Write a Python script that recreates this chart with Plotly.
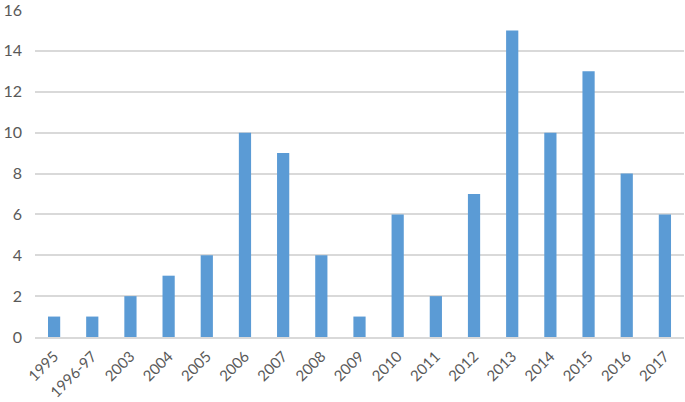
import plotly.graph_objects as go

years = ["1995", "1996-97", "2003", "2004", "2005", "2006", "2007", "2008", "2009",
         "2010", "2011", "2012", "2013", "2014", "2015", "2016", "2017"]
counts = [1, 1, 2, 3, 4, 10, 9, 4, 1, 6, 2, 7, 15, 10, 13, 8, 6]
y_ticks = [0, 2, 4, 6, 8, 10, 12, 14, 16]

fig = go.Figure(go.Bar(x=years, y=counts, marker=dict(color="#5b9bd5", line=dict(width=0))))

fig.update_layout(
    width=685, height=402,
    margin=dict(l=35, r=1, t=10, b=65),
    paper_bgcolor="white", plot_bgcolor="white",
    bargap=0.68,
    font=dict(family="Lato, Open Sans, sans-serif", size=15, color="#595959"),
    showlegend=False,
)
fig.update_xaxes(type="category", tickangle=-45, showgrid=False, showline=True,
                 linecolor="#d9d9d9", linewidth=1.5, ticks="", tickfont=dict(size=15),
                 ticklabelstandoff=3, automargin=False)
fig.update_yaxes(range=[0, 16], tickvals=y_ticks, showgrid=True, gridcolor="#d9d9d9",
                 gridwidth=1.5, zeroline=False, showline=False, ticks="",
                 tickfont=dict(size=16), ticklabelstandoff=12, ticklabeloverflow="allow",
                 automargin=False)

fig.write_html("out.html", config={"displayModeBar": False},
               post_script="document.body.style.margin='0';document.body.style.padding='0';")
